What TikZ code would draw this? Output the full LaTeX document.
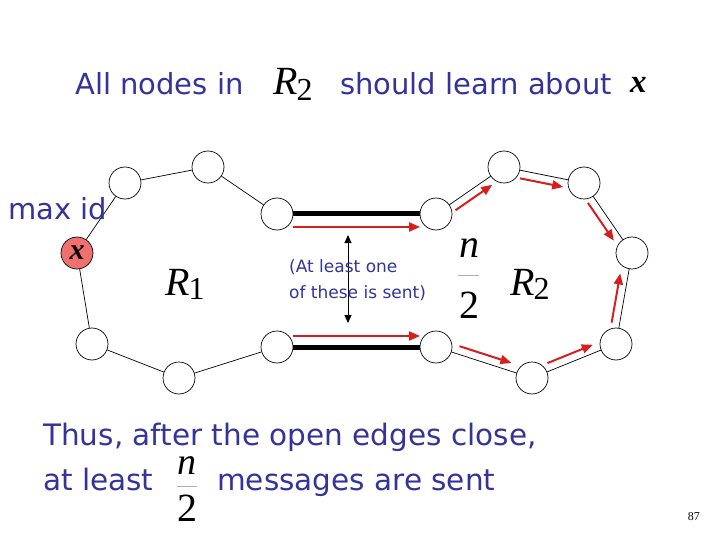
\documentclass[tikz,border=0pt]{standalone}
\usepackage{fontspec}
\setmainfont{DejaVu Sans}
\newfontfamily\tms{Liberation Serif}
\usetikzlibrary{arrows.meta,calc}
\definecolor{txtblue}{RGB}{51,51,153}
\definecolor{arrred}{RGB}{215,30,30}
\definecolor{nodered}{RGB}{240,112,112}
\definecolor{bargray}{RGB}{175,175,175}
\begin{document}
\begin{tikzpicture}[x=1pt,y=-1pt,
  vtx/.style={circle,draw=black,line width=0.7pt,minimum size=32pt,inner sep=0pt,fill=white},
  edge/.style={line width=0.7pt},
  thickedge/.style={line width=5pt},
  redarrow/.style={arrred,line width=2pt,-{Triangle[length=11pt,width=9pt]}},
  blkarrow/.style={line width=1pt,{Triangle[length=8pt,width=7pt]}-{Triangle[length=8pt,width=7pt]}},
  lbl/.style={anchor=base west,inner sep=0pt,text=txtblue,font=\fontsize{29}{32}\selectfont},
  biglbl/.style={anchor=base west,inner sep=0pt,text=txtblue,font=\fontsize{29.5}{32}\selectfont},
  smalllbl/.style={anchor=base west,inner sep=0pt,text=txtblue,font=\fontsize{17}{19}\selectfont},
  mathR/.style={anchor=base west,inner sep=0pt,font=\tms\itshape\fontsize{40}{40}\selectfont},
  mathfrac/.style={anchor=base,inner sep=0pt,font=\tms\fontsize{40}{40}\selectfont},
  mathx/.style={inner sep=0pt,font=\tms\bfseries\itshape\fontsize{33}{33}\selectfont},
]
\useasboundingbox (0,0) rectangle (720,540);

% title
\node[lbl] (t1) at (75,95) {All nodes in};
\node[mathR] (tR) at (273,95) {R\kern-1pt\raisebox{-6pt}{\upshape\fontsize{32}{32}\selectfont 2}};
\node[lbl] (t2) at (340,95) {should learn about};
\node[mathx,anchor=base west] (tx) at (630,93) {x};

% vertices
\node[vtx] (A) at (125,183) {};
\node[vtx] (B) at (208,167) {};
\node[vtx] (C) at (277,214) {};
\node[vtx,fill=nodered] (X) at (77,253) {};
\node[mathx,font=\tms\bfseries\itshape\fontsize{30}{30}\selectfont] at (X) {x};
\node[vtx] (D) at (92,344) {};
\node[vtx] (E) at (179,378) {};
\node[vtx] (F) at (277,347) {};
\node[vtx] (G) at (436,214) {};
\node[vtx] (H) at (504,167) {};
\node[vtx] (I) at (584,183) {};
\node[vtx] (J) at (632,253) {};
\node[vtx] (K) at (616,344) {};
\node[vtx] (L) at (532,378) {};
\node[vtx] (M) at (436,347) {};

% thin edges
\foreach \a/\b in {X/A,A/B,B/C,X/D,D/E,E/F,G/H,H/I,I/J,J/K,K/L,L/M}
  \draw[edge] (\a) -- (\b);
% thick open edges
\draw[thickedge] (C) -- (G);
\draw[thickedge] (F) -- (M);

% red message arrows
\draw[redarrow] ($(C)!0.1!(G)!13pt!-90:(G)$) -- ($(C)!0.9!(G)!13pt!-90:(G)$);
\draw[redarrow] ($(F)!0.1!(M)!11pt!90:(M)$) -- ($(F)!0.9!(M)!11pt!90:(M)$);
\foreach \a/\b/\s in {G/H/-90,H/I/-90,I/J/-90,K/J/90,L/K/90,M/L/90}
  \draw[redarrow] ($(\a)!0.22!(\b)!8pt!\s:(\b)$) -- ($(\a)!0.76!(\b)!8pt!\s:(\b)$);

% max id
\node[lbl] (maxid) at (8,220) {max id};

% region labels
\node[mathR] (R1) at (165,295) {R\kern-1pt\raisebox{-4pt}{\upshape\fontsize{32}{32}\selectfont 1}};
\node[mathR] (R2) at (510,295) {R\kern-1pt\raisebox{-4pt}{\upshape\fontsize{32}{32}\selectfont 2}};

% n/2 middle
\node[mathfrac,font=\tms\itshape\fontsize{40}{40}\selectfont] (nm) at (469,258) {n};
\draw[bargray,line width=0.6pt] (458,275) -- (479,275);
\node[mathfrac] (dm) at (469,318) {2};

% double arrow and note
\coordinate (va) at (348,235);
\coordinate (vb) at (348,323);
\draw[blkarrow] (va) -- (vb);
\node[smalllbl] (n1) at (289,272) {(At least one};
\node[smalllbl] (n2) at (289,298) {of these is sent)};

% bottom text
\node[biglbl] (b1) at (43,445) {Thus, after the open edges close,};
\node[biglbl] (b2) at (43,490) {at least};
\node[mathfrac,font=\tms\itshape\fontsize{38}{38}\selectfont] (nb) at (187,474) {n};
\draw[bargray,line width=0.6pt] (177,486) -- (197,486);
\node[mathfrac] (db) at (187,521) {2};
\node[biglbl] (b3) at (217,490) {messages are sent};

\node[anchor=base east,inner sep=0pt,font=\tms\fontsize{12}{12}\selectfont] (pg) at (700,520) {87};
\end{tikzpicture}
\end{document}
